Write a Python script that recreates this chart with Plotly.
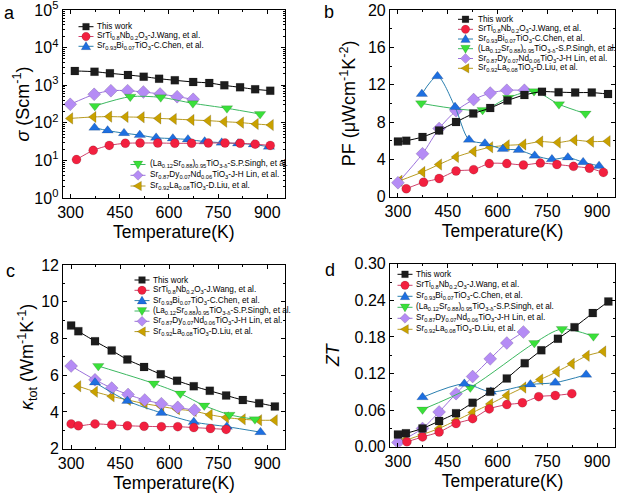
import plotly.graph_objects as go

W, H = 620, 494
FONT = "Liberation Sans, Arial, sans-serif"

# ---------------- data ----------------
# (a) electrical conductivity sigma (S/cm)
a_this_T = [313, 373, 420, 475, 523, 570, 618, 674, 723, 769, 817, 863, 909]
a_this_v = [2390, 2290, 2070, 1870, 1690, 1490, 1350, 1220, 1145, 990, 877, 776, 716]
a_wang_T = [318, 369, 418, 467, 512, 566, 618, 669, 720, 771, 817, 863, 909]
a_wang_v = [10.5, 18.5, 25, 28.5, 29, 29, 28.5, 28.5, 29, 29, 28.5, 27, 25]
a_chen_T = [373, 413, 463, 511, 561, 612, 658, 709, 761, 811, 859, 905]
a_chen_v = [74, 62, 53, 47, 40, 38, 36, 31.6, 29.6, 28, 26.5, 23]
a_singh_T = [374, 482, 575, 673, 777, 878]
a_singh_v = [280, 495, 475, 330, 243, 171]
a_lin_T = [299, 372, 423, 474, 522, 573, 625, 674]
a_lin_v = [310, 571, 716, 716, 659, 584, 495, 421]
a_liu_T = [299, 370, 418, 468, 517, 568, 615, 669, 720, 769, 820, 865, 911]
a_liu_v = [131, 143, 146, 143, 140, 131, 126, 119, 114, 107, 101, 93, 87]

# (b) power factor PF (uW cm-1 K-2)
b_this_T = [300, 325, 374, 424, 475, 527, 578, 630, 681, 734, 784, 834, 884, 933]
b_this_v = [5.9, 6.0, 6.4, 7.1, 8.0, 8.9, 9.5, 10.3, 10.9, 11.25, 11.2, 11.15, 11.15, 11.0]
b_wang_T = [325, 377, 424, 475, 528, 575, 628, 678, 729, 779, 829, 877, 919]
b_wang_v = [0.85, 1.55, 1.95, 2.75, 2.9, 3.55, 3.55, 3.4, 3.6, 3.45, 3.25, 3.05, 2.6]
b_chen_T = [372, 419, 472, 514, 562, 616, 664, 712, 764, 812, 858, 906]
b_chen_v = [11.0, 12.9, 9.6, 6.1, 5.7, 5.1, 5.0, 4.4, 4.0, 4.2, 3.7, 3.3]
b_singh_T = [370, 555, 632, 710, 785, 865]
b_singh_v = [10.0, 9.3, 10.6, 11.3, 9.9, 8.9]
b_lin_T = [300, 374, 424, 475, 528, 578, 628, 681]
b_lin_v = [1.5, 4.6, 7.3, 9.2, 10.4, 11.1, 11.4, 11.4]
b_liu_T = [305, 374, 424, 475, 528, 578, 628, 678, 729, 782, 832, 882, 932]
b_liu_v = [1.7, 2.65, 3.45, 4.25, 4.85, 5.3, 5.5, 5.6, 5.9, 5.8, 6.05, 5.9, 5.95]

# (c) total thermal conductivity kappa_tot (W m-1 K-1)
c_this_T = [300, 322, 373, 424, 472, 523, 574, 624, 675, 724, 774, 825, 875, 923]
c_this_v = [8.7, 8.4, 7.85, 7.35, 6.85, 6.45, 6.05, 5.7, 5.4, 5.15, 4.9, 4.65, 4.48, 4.3]
c_wang_T = [300, 322, 373, 424, 472, 523, 576, 626, 675, 726, 774]
c_wang_v = [3.35, 3.25, 3.35, 3.3, 3.25, 3.22, 3.2, 3.2, 3.15, 3.1, 3.05]
c_chen_T = [373, 472, 576, 675, 776, 879]
c_chen_v = [5.6, 4.6, 3.95, 3.45, 3.2, 2.9]
c_singh_T = [383, 553, 634, 707, 784, 862]
c_singh_v = [6.5, 5.55, 5.0, 4.35, 3.85, 3.6]
c_lin_T = [300, 373, 424, 474, 525, 576, 626, 677]
c_lin_v = [6.5, 5.75, 5.3, 4.95, 4.65, 4.45, 4.25, 4.1]
c_liu_T = [322, 373, 424, 474, 525, 576, 624, 675, 724, 774, 825, 875, 923]
c_liu_v = [5.4, 5.1, 4.85, 4.65, 4.45, 4.3, 4.15, 4.05, 3.85, 3.7, 3.6, 3.55, 3.55]

# (d) figure of merit ZT
d_this_T = [300, 324, 374, 424, 475, 525, 578, 628, 682, 732, 782, 832, 887, 934]
d_this_v = [0.020, 0.022, 0.030, 0.042, 0.055, 0.072, 0.090, 0.112, 0.137, 0.158, 0.177, 0.196, 0.219, 0.238]
d_wang_T = [327, 374, 424, 475, 525, 575, 628, 675, 724, 774, 824]
d_wang_v = [0.008, 0.016, 0.024, 0.038, 0.046, 0.062, 0.069, 0.072, 0.082, 0.084, 0.087]
d_chen_T = [374, 500, 580, 699, 774, 867]
d_chen_v = [0.081, 0.103, 0.090, 0.102, 0.105, 0.118]
d_singh_T = [374, 518, 711, 794, 889]
d_singh_v = [0.061, 0.097, 0.170, 0.193, 0.181]
d_lin_T = [300, 374, 424, 475, 525, 578, 628, 678]
d_lin_v = [0.007, 0.030, 0.057, 0.087, 0.115, 0.144, 0.170, 0.188]
d_liu_T = [320, 374, 424, 475, 525, 578, 628, 678, 729, 779, 824, 869, 919]
d_liu_v = [0.010, 0.020, 0.030, 0.043, 0.056, 0.070, 0.084, 0.097, 0.110, 0.123, 0.136, 0.149, 0.156]

series_names = [
    "This work",
    "SrTi<sub>0.8</sub>Nb<sub>0.2</sub>O<sub>3</sub>-J.Wang, et al.",
    "Sr<sub>0.93</sub>Bi<sub>0.07</sub>TiO<sub>3</sub>-C.Chen, et al.",
    "(La<sub>0.12</sub>Sr<sub>0.88</sub>)<sub>0.95</sub>TiO<sub>3-δ</sub>-S.P.Singh, et al.",
    "Sr<sub>0.87</sub>Dy<sub>0.07</sub>Nd<sub>0.06</sub>TiO<sub>3</sub>-J-H Lin, et al.",
    "Sr<sub>0.92</sub>La<sub>0.08</sub>TiO<sub>3</sub>-D.Liu, et al.",
]

x_ticks = [300, 450, 600, 750, 900]
a_ticks = [1, 10, 100, 1000, 10000, 100000]
a_ticktext = ["10<sup>0</sup>", "10<sup>1</sup>", "10<sup>2</sup>", "10<sup>3</sup>", "10<sup>4</sup>", "10<sup>5</sup>"]

# ---------------- styles ----------------
STY = [
    dict(symbol="square", mfill="#1c1c1c", lcol="#000000", size=8),
    dict(symbol="circle", mfill="#F2203F", lcol="#D0406A", size=9),
    dict(symbol="triangle-up", mfill="#1E6FE0", lcol="#2A7FAF", size=10),
    dict(symbol="triangle-down", mfill="#3AE03A", lcol="#3CB860", size=10),
    dict(symbol="diamond", mfill="#B58CF5", lcol="#9C72DC", size=10),
    dict(symbol="triangle-left", mfill="#C9A100", lcol="#B89B22", size=10),
]

panels = {
    "a": [(a_this_T, a_this_v), (a_wang_T, a_wang_v), (a_chen_T, a_chen_v),
          (a_singh_T, a_singh_v), (a_lin_T, a_lin_v), (a_liu_T, a_liu_v)],
    "b": [(b_this_T, b_this_v), (b_wang_T, b_wang_v), (b_chen_T, b_chen_v),
          (b_singh_T, b_singh_v), (b_lin_T, b_lin_v), (b_liu_T, b_liu_v)],
    "c": [(c_this_T, c_this_v), (c_wang_T, c_wang_v), (c_chen_T, c_chen_v),
          (c_singh_T, c_singh_v), (c_lin_T, c_lin_v), (c_liu_T, c_liu_v)],
    "d": [(d_this_T, d_this_v), (d_wang_T, d_wang_v), (d_chen_T, d_chen_v),
          (d_singh_T, d_singh_v), (d_lin_T, d_lin_v), (d_liu_T, d_liu_v)],
}
axes = {"a": ("x", "y"), "b": ("x2", "y2"), "c": ("x3", "y3"), "d": ("x4", "y4")}

fig = go.Figure()
for key, data in panels.items():
    xa, ya = axes[key]
    order = [5, 4, 3, 2, 1, 0]
    for i in order:
        T, v = data[i]
        s = STY[i]
        fig.add_trace(go.Scatter(
            x=T, y=v, mode="lines+markers", name=series_names[i], showlegend=False,
            xaxis=xa, yaxis=ya,
            line=dict(color=s["lcol"], width=1, shape="spline", smoothing=0.8),
            marker=dict(symbol=s["symbol"], size=s["size"], color=s["mfill"],
                        line=dict(width=0.4, color="rgba(0,0,0,0.35)")),
        ))

# ---------------- axes ----------------
def xaxis(domain, anchor):
    return dict(domain=domain, anchor=anchor, range=[276, 954], tickvals=x_ticks,
                ticks="inside", ticklen=4, tickwidth=1, tickcolor="black",
                showline=True, linecolor="black", linewidth=1.2, mirror="allticks",
                showgrid=False, zeroline=False, ticklabeloverflow="allow",
                tickfont=dict(size=16, color="black", family=FONT),
                title=dict(text="Temperature(K)", font=dict(size=17.5, color="black", family=FONT), standoff=5),
                minor=dict(ticks="inside", ticklen=2, tickcolor="black", tickvals=[375, 525, 675, 825]),
                automargin=False)

def yaxis(domain, anchor, title, standoff, **kw):
    d = dict(domain=domain, anchor=anchor, ticks="inside", ticklen=4, tickwidth=1, tickcolor="black",
             showline=True, linecolor="black", linewidth=1.2, mirror="allticks",
             showgrid=False, zeroline=False, ticklabeloverflow="allow",
             tickfont=dict(size=16, color="black", family=FONT),
             title=dict(text=title, font=dict(size=18, color="black", family=FONT), standoff=standoff),
             automargin=False)
    d.update(kw)
    return d

xa_dom_l = [62.7 / W, 285 / W]
xa_dom_r = [390 / W, 615 / W]
ya_dom_t = [1 - 198 / H, 1 - 10 / H]
yb_dom_t = [1 - 196.7 / H, 1 - 10 / H]
yc_dom = [1 - 448.7 / H, 1 - 265 / H]
yd_dom = [1 - 446.7 / H, 1 - 263.7 / H]

minor_log = [m * 10 ** e for e in range(5) for m in range(2, 10)]

fig.update_layout(
    width=W, height=H, margin=dict(l=0, r=0, t=0, b=0),
    paper_bgcolor="white", plot_bgcolor="white",
    font=dict(family=FONT, color="black"),
    xaxis=xaxis(xa_dom_l, "y"),
    xaxis2=xaxis(xa_dom_r, "y2"),
    xaxis3=xaxis([63.3 / W, 285 / W], "y3"),
    xaxis4=xaxis(xa_dom_r, "y4"),
    yaxis=yaxis(ya_dom_t, "x", "<i>σ</i> (Scm<sup>-1</sup>)", 0, type="log", range=[-0.0005, 5.0005],
                tickvals=a_ticks, ticktext=a_ticktext,
                minor=dict(ticks="inside", ticklen=2, tickcolor="black", tickvals=minor_log)),
    yaxis2=yaxis(yb_dom_t, "x2", "PF (μWcm<sup>-1</sup>K<sup>-2</sup>)", 7, range=[0, 20], dtick=4,
                 minor=dict(ticks="inside", ticklen=2, tickcolor="black", dtick=2)),
    yaxis3=yaxis(yc_dom, "x3", "<i>κ</i><sub>tot</sub> (Wm<sup>-1</sup>K<sup>-1</sup>)", 2, range=[2, 12], dtick=2,
                 minor=dict(ticks="inside", ticklen=2, tickcolor="black", dtick=1)),
    yaxis4=yaxis(yd_dom, "x4", "<i>ZT</i>", 10, range=[0, 0.30], dtick=0.06, tickformat=".2f",
                 minor=dict(ticks="inside", ticklen=2, tickcolor="black", dtick=0.03)),
)

# ---------------- custom compact legends ----------------
shapes = []
annotations = []
LEG_FS = 8.2

def P(x, y):
    return x / W, 1 - y / H

def add_entry(cx, cy, tx, i, half=7.5):
    s = STY[i]
    x0, y0 = P(cx - half, cy)
    x1, y1 = P(cx + half, cy)
    shapes.append(dict(type="line", xref="paper", yref="paper", x0=x0, y0=y0, x1=x1, y1=y1,
                       line=dict(color=s["lcol"], width=1)))
    sym = s["symbol"]
    edge = dict(color="rgba(0,0,0,0.35)", width=0.4)
    if sym == "square":
        a0, b0 = P(cx - 3.4, cy + 3.4)
        a1, b1 = P(cx + 3.4, cy - 3.4)
        shapes.append(dict(type="rect", xref="paper", yref="paper", x0=a0, y0=b0, x1=a1, y1=b1,
                           fillcolor=s["mfill"], line=edge))
    elif sym == "circle":
        a0, b0 = P(cx - 4.2, cy + 4.2)
        a1, b1 = P(cx + 4.2, cy - 4.2)
        shapes.append(dict(type="circle", xref="paper", yref="paper", x0=a0, y0=b0, x1=a1, y1=b1,
                           fillcolor=s["mfill"], line=edge))
    else:
        if sym == "triangle-up":
            pts = [(cx, cy - 4.7), (cx + 4.8, cy + 3.4), (cx - 4.8, cy + 3.4)]
        elif sym == "triangle-down":
            pts = [(cx, cy + 4.7), (cx + 4.8, cy - 3.4), (cx - 4.8, cy - 3.4)]
        elif sym == "diamond":
            pts = [(cx, cy - 5), (cx + 5, cy), (cx, cy + 5), (cx - 5, cy)]
        else:  # triangle-left
            pts = [(cx - 4.7, cy), (cx + 3.4, cy - 4.8), (cx + 3.4, cy + 4.8)]
        path = "M " + " L ".join("%.5f,%.5f" % P(px, py) for px, py in pts) + " Z"
        shapes.append(dict(type="path", xref="paper", yref="paper", path=path,
                           fillcolor=s["mfill"], line=edge))
    ax, ay = P(tx, cy)
    annotations.append(dict(x=ax, y=ay, xref="paper", yref="paper", text=series_names[i],
                            showarrow=False, xanchor="left", yanchor="middle",
                            font=dict(size=LEG_FS, color="black", family=FONT)))

# panel a: two legend blocks
for i, cy in zip([0, 1, 2], [26.7, 36.5, 46.3]):
    add_entry(86, cy, 95, i)
for i, cy in zip([3, 4, 5], [164.5, 175.3, 186.0]):
    add_entry(138, cy, 147.5, i)
# panel b
for i, cy in enumerate([19.3, 29.3, 39.0, 48.7, 58.5, 68.3]):
    add_entry(465.5, cy, 475.5, i)
# panel c
for i, cy in enumerate([280.0, 290.3, 300.6, 311.0, 321.3, 331.6]):
    add_entry(142, cy, 150.5, i)
# panel d
for i, cy in enumerate([274.3, 285.3, 296.3, 307.3, 318.3, 329.3]):
    add_entry(405, cy, 414, i)

# panel letters
for lab, (lx, ly) in {"a": (9, 13), "b": (329, 12), "c": (10, 271), "d": (330, 270)}.items():
    ax, ay = P(lx, ly)
    annotations.append(dict(x=ax, y=ay, xref="paper", yref="paper", text=lab, showarrow=False,
                            xanchor="center", yanchor="middle",
                            font=dict(size=18, color="black", family=FONT)))

fig.update_layout(shapes=shapes, annotations=annotations)
fig.write_html("out.html")
